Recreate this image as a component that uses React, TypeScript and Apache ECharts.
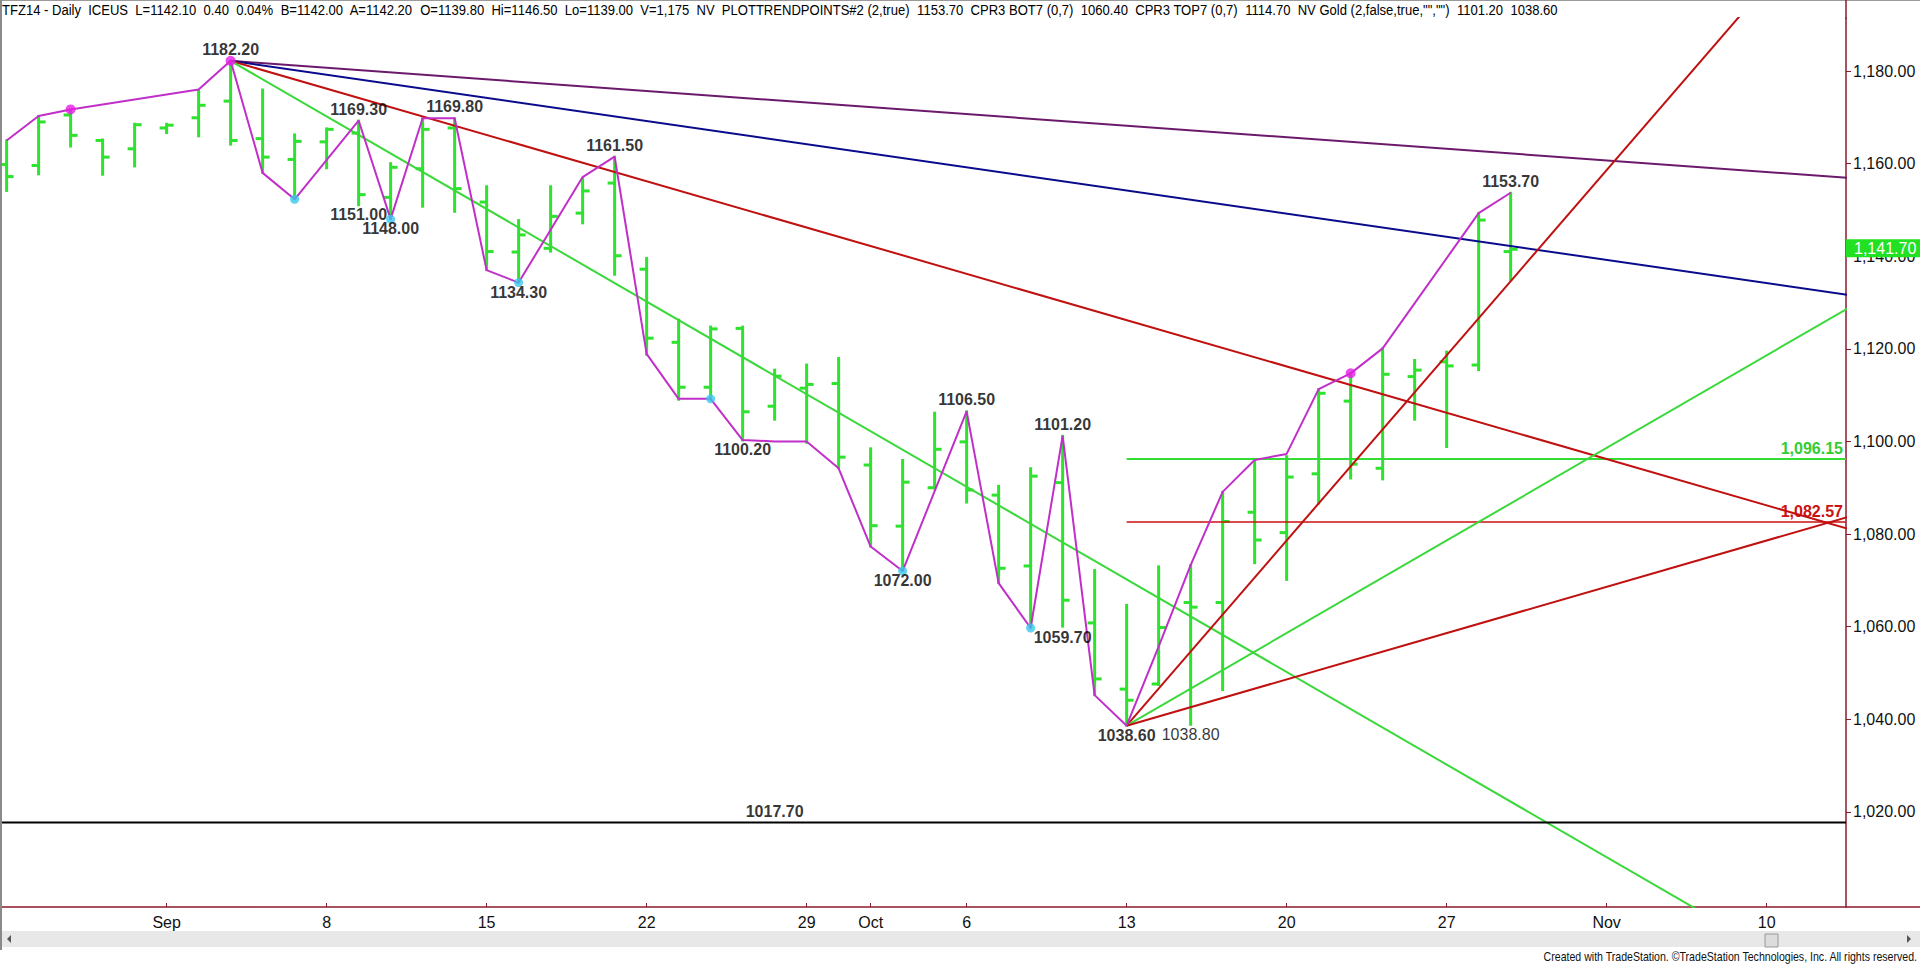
import React, { useEffect, useRef } from "react";
import * as echarts from "echarts";

// ---------- DATA ----------
const barDates = ["08-25","08-26","08-27","08-28","08-29","09-01","09-02","09-03","09-04","09-05","09-08","09-09","09-10","09-11","09-12","09-15","09-16","09-17","09-18","09-19","09-22","09-23","09-24","09-25","09-26","09-29","09-30","10-01","10-02","10-03","10-06","10-07","10-08","10-09","10-10","10-13","10-14","10-15","10-16","10-17","10-20","10-21","10-22","10-23","10-24","10-27","10-28","10-29"];
const opens = [1159.8,1159.6,1170.5,1165.0,1163.2,1167.7,1169.9,1173.5,1165.4,1160.9,1164.7,1166.6,1152.7,1158.9,1167.7,1151.7,1140.9,1141.7,1149.3,1155.8,1137.2,1121.4,1111.7,1124.4,1107.6,1111.5,1112.5,1094.9,1081.7,1090.0,1099.9,1088.4,1073.1,1091.1,1060.8,1046.5,1047.6,1065.2,1065.2,1084.7,1080.3,1093.0,1108.7,1094.2,1114.0,1117.2,1116.5,1141.0];
const highs = [1165.0,1170.3,1171.7,1165.2,1168.6,1168.6,1175.7,1182.2,1176.0,1166.3,1167.6,1169.3,1160.1,1169.8,1169.8,1155.1,1147.8,1155.1,1156.9,1161.5,1139.6,1126.3,1124.8,1124.8,1115.5,1116.6,1118.0,1098.5,1096.0,1106.2,1106.5,1090.4,1094.2,1101.2,1072.2,1064.7,1073.0,1073.3,1089.1,1096.0,1096.8,1111.3,1114.7,1120.1,1117.6,1119.4,1149.3,1153.7];
const lows = [1154.1,1157.7,1163.7,1157.6,1159.4,1166.6,1165.9,1164.1,1158.0,1152.3,1159.0,1151.0,1148.0,1150.7,1149.6,1137.0,1134.3,1141.0,1147.1,1136.0,1118.7,1109.0,1109.0,1100.2,1104.7,1099.7,1094.2,1077.3,1072.0,1089.8,1086.8,1069.4,1059.7,1060.0,1045.2,1038.6,1047.4,1038.8,1046.3,1073.7,1070.1,1086.6,1092.0,1091.8,1104.7,1098.8,1115.4,1134.9];
const closes = [1157.2,1169.0,1166.1,1161.4,1168.4,1168.3,1172.6,1165.0,1161.4,1164.8,1167.4,1153.3,1159.2,1167.4,1154.6,1141.0,1144.6,1148.6,1154.1,1140.1,1122.3,1111.7,1124.3,1106.4,1114.1,1112.3,1096.6,1081.8,1091.2,1098.3,1089.5,1072.6,1092.5,1065.7,1048.7,1044.1,1059.8,1064.2,1082.7,1078.7,1092.3,1110.4,1095.1,1114.5,1115.4,1116.3,1147.8,1141.5];

const zigIdx = [0,1,2,6,7,8,9,11,12,13,14,15,16,18,19,20,21,22,23,24,25,26,27,28,30,31,32,33,34,35,36,37,38,39,40,41,42,43,46,47];
const zigVal = [1165.0,1170.3,1171.7,1176.0,1182.2,1158.0,1152.3,1169.3,1148.0,1169.8,1169.8,1137.0,1134.3,1157.1,1161.5,1118.9,1109.2,1109.2,1100.3,1100.0,1100.0,1094.2,1077.3,1072.0,1106.5,1069.4,1059.7,1101.2,1045.2,1038.6,1055.7,1073.3,1089.1,1096.0,1097.3,1111.3,1114.7,1120.1,1149.3,1153.7];

const topDotIdx = [2,7,42];
const topDotVal = [1171.7,1182.2,1114.7];
const botDotIdx = [9,12,16,22,28,32];
const botDotVal = [1152.3,1148.0,1134.3,1109.2,1072.0,1059.7];

const highLblIdx = [7,11,14,19,30,33,47];
const highLblVal = [1182.2,1169.3,1169.8,1161.5,1106.5,1101.2,1153.7];
const lowLblIdx = [11,12,16,23,28,33,35,37];
const lowLblVal = [1151.0,1148.0,1134.3,1100.2,1072.0,1059.7,1038.6,1038.8];

const fanHighAnchor = [7, 1182.2];
const fanHighSlopes = [-0.5, -1, -2, -4];
const fanLowAnchor = [35, 1038.6];
const fanLowSlopes = [8, 4, 2];

const levelGreen = 1096.15;
const levelRed = 1082.57;
const supportLevel = 1017.7;
const supportLblIdx = 24;
const lastPrice = 1141.7;

const xTickIdx = [5,10,15,20,25,27,30,35,40,45,50,55];
const xTickLabels = ["Sep","8","15","22","29","Oct","6","13","20","27","Nov","10"];
const yTicks = [1020,1040,1060,1080,1100,1120,1140,1160,1180];

// ---------- STYLE ----------
const FONT = "'Liberation Sans', Arial, sans-serif";
const AXIS = "#8b1a2a";
const BAR = "#2ee22e";
const GREEN = "#3ad83a";
const RED = "#c01010";
const xMin = -0.144;
const xMax = 57.48;
const yMin = 999.44;
const yMax = 1191.45;

const headerParts: [string, string][] = [
  ["TFZ14 - Daily  ICEUS  L=1142.10  0.40  0.04%", "g"],
  ["  B=1142.00  A=1142.20  ", "k"],
  ["O=1139.80", "g"],
  ["  Hi=1146.50  Lo=1139.00  V=1,175  NV  PLOTTRENDPOINTS#2 (2,true)  ", "k"],
  ["1153.70", "m"],
  ["  CPR3 BOT7 (0,7)  ", "k"],
  ["1060.40", "c"],
  ["  CPR3 TOP7 (0,7)  ", "k"],
  ["1114.70", "m"],
  ["  NV Gold (2,false,true,\"\",\"\")  ", "k"],
  ["1101.20", "r"],
  ["  ", "k"],
  ["1038.60", "b"],
];
const footer = "Created with TradeStation. \u00A9TradeStation Technologies, Inc. All rights reserved.";

function measure(text: string, font: string) {
  const c = document.createElement("canvas").getContext("2d");
  if (!c) return text.length * 7;
  c.font = font;
  return c.measureText(text).width;
}

export default function App() {
  const ref = useRef<HTMLDivElement>(null);
  useEffect(() => {
    if (!ref.current) return;
    const chart = echarts.init(ref.current, undefined, { renderer: "svg" });

    const ohlc = barDates.map((_, i) => [i, opens[i], highs[i], lows[i], closes[i]]);
    const fanSeries: any[] = [];
    const fanColorsHigh = ["#6b1a6b", "#0a0a8c", RED, GREEN];
    fanHighSlopes.forEach((s, k) => {
      const xe = 62;
      fanSeries.push({
        type: "line", symbol: "none", silent: true, z: 3, clip: true,
        lineStyle: { color: fanColorsHigh[k], width: 2 },
        data: [[fanHighAnchor[0], fanHighAnchor[1]], [xe, fanHighAnchor[1] + s * (xe - fanHighAnchor[0])]],
      });
    });
    const fanColorsLow = [RED, GREEN, RED];
    fanLowSlopes.forEach((s, k) => {
      const xe = 62;
      fanSeries.push({
        type: "line", symbol: "none", silent: true, z: 3, clip: true,
        lineStyle: { color: fanColorsLow[k], width: 2 },
        data: [[fanLowAnchor[0], fanLowAnchor[1]], [xe, fanLowAnchor[1] + s * (xe - fanLowAnchor[0])]],
      });
    });

    const fmt2 = (v: number) => v.toLocaleString("en-US", { minimumFractionDigits: 2, maximumFractionDigits: 2 });

    const labelData: any[] = [];
    highLblIdx.forEach((ix, k) => labelData.push({ value: [ix, highLblVal[k]], name: highLblVal[k].toFixed(2), label: { position: "top", distance: 3 } }));
    lowLblIdx.forEach((ix, k) => labelData.push({
      value: [ix, lowLblVal[k]], name: lowLblVal[k].toFixed(2),
      label: { position: "bottom", distance: 1, fontWeight: k === lowLblIdx.length - 1 ? "normal" : "bold" },
    }));
    labelData.push({ value: [supportLblIdx, supportLevel], name: supportLevel.toFixed(2), label: { position: "top", distance: 2 } });

    const richStyles: any = {
      g: { color: "#22c822" }, k: { color: "#000" }, m: { color: "#cc22cc" },
      c: { color: "#33cccc" }, r: { color: "#cc1111" }, b: { color: "#101080" },
    };
    Object.keys(richStyles).forEach((key) => { richStyles[key].fontSize = 15; richStyles[key].fontFamily = FONT; });
    const headerRich = headerParts.map(([t, s]) => `{${s}|${t}}`).join("");
    const headerPlain = headerParts.map(([t]) => t).join("");
    const headerW = measure(headerPlain, `15px ${FONT}`);
    const headerScale = 1555 / headerW;
    const footW = measure(footer, `12px ${FONT}`);
    const footScale = 375 / footW;

    const option: any = {
      animation: false,
      backgroundColor: "#fff",
      grid: { left: 2, right: 74, top: 18, bottom: 57, containLabel: false },
      xAxis: {
        type: "value", min: xMin, max: xMax,
        axisLine: { show: true, onZero: false, lineStyle: { color: AXIS, width: 1.5 } },
        axisTick: { show: true, customValues: xTickIdx, inside: true, length: 4, lineStyle: { color: AXIS } },
        axisLabel: {
          customValues: xTickIdx,
          formatter: (v: number) => { const k = xTickIdx.indexOf(Math.round(v)); return k >= 0 ? xTickLabels[k] : ""; },
          color: "#111", fontSize: 16, fontFamily: FONT, margin: 7,
        },
        splitLine: { show: false },
      },
      yAxis: {
        type: "value", position: "right", min: yMin, max: yMax,
        axisLine: { show: true, onZero: false, lineStyle: { color: AXIS, width: 1.5 } },
        axisTick: { show: true, customValues: yTicks, length: 5, lineStyle: { color: AXIS } },
        axisLabel: { customValues: yTicks, formatter: (v: number) => fmt2(v), color: "#111", fontSize: 16, fontFamily: FONT, margin: 7 },
        splitLine: { show: false },
      },
      series: [
        {
          type: "custom", z: 2, silent: true, clip: true,
          data: ohlc,
          encode: { x: 0, y: [1, 2, 3, 4] },
          renderItem: (params: any, api: any) => {
            const i = api.value(0);
            const ph = api.coord([i, api.value(2)]);
            const pl = api.coord([i, api.value(3)]);
            const po = api.coord([i, api.value(1)]);
            const pc = api.coord([i, api.value(4)]);
            const style = { stroke: BAR, lineWidth: 3 };
            return {
              type: "group",
              children: [
                { type: "line", shape: { x1: ph[0], y1: ph[1] - 1, x2: pl[0], y2: pl[1] + 1 }, style },
                { type: "line", shape: { x1: po[0] - 7, y1: po[1], x2: po[0], y2: po[1] }, style },
                { type: "line", shape: { x1: pc[0], y1: pc[1], x2: pc[0] + 7, y2: pc[1] }, style },
              ],
            };
          },
        },
        ...fanSeries,
        {
          type: "line", symbol: "none", silent: true, z: 3,
          lineStyle: { color: "#000", width: 2 },
          data: [[xMin, supportLevel], [xMax, supportLevel]],
        },
        {
          type: "line", data: [], silent: true,
          markLine: {
            silent: true, symbol: "none", z: 3,
            lineStyle: { color: "#33dd33", width: 2, type: "solid" },
            data: [[{ coord: [fanLowAnchor[0], levelGreen] }, { coord: [xMax, levelGreen] }]],
            label: { show: true, position: "insideEndTop", formatter: fmt2(levelGreen), color: "#33cc33", fontSize: 16, fontWeight: "bold", fontFamily: FONT, distance: 3 },
          },
        },
        {
          type: "line", data: [], silent: true,
          markLine: {
            silent: true, symbol: "none", z: 3,
            lineStyle: { color: "#cc1111", width: 1.5, type: "solid" },
            data: [[{ coord: [fanLowAnchor[0], levelRed] }, { coord: [xMax, levelRed] }]],
            label: { show: true, position: "insideEndTop", formatter: fmt2(levelRed), color: "#cc1111", fontSize: 16, fontWeight: "bold", fontFamily: FONT, distance: 3 },
          },
        },
        {
          type: "line", symbol: "none", silent: true, z: 4,
          lineStyle: { color: "#c030c8", width: 2 },
          data: zigIdx.map((ix, k) => [ix, zigVal[k]]),
        },
        {
          type: "scatter", silent: true, z: 5, symbolSize: 10,
          itemStyle: { color: "#e61ee6" },
          data: topDotIdx.map((ix, k) => [ix, topDotVal[k]]),
        },
        {
          type: "scatter", silent: true, z: 5, symbolSize: 9,
          itemStyle: { color: "#3cc8ec" },
          data: botDotIdx.map((ix, k) => [ix, botDotVal[k]]),
        },
        {
          type: "scatter", silent: true, z: 6, symbolSize: 1,
          itemStyle: { color: "rgba(0,0,0,0)" },
          label: { show: true, formatter: (p: any) => p.name, color: "#000", fontSize: 16, fontWeight: "bold", fontFamily: FONT },
          data: labelData,
        },
        {
          type: "line", data: [], silent: true,
          markLine: {
            silent: true, symbol: "none", z: 10,
            lineStyle: { color: "rgba(0,0,0,0)", width: 0 },
            data: [{ yAxis: lastPrice }],
            label: {
              show: true, position: "end", distance: 0, formatter: fmt2(lastPrice),
              color: "#ffffff", backgroundColor: "#22e022", fontSize: 16, fontFamily: FONT,
              padding: [1, 8, 0, 8], lineHeight: 17, opacity: 1,
            },
          },
        },
      ],
      graphic: [
        { type: "rect", silent: true, shape: { x: 0, y: 0, width: 1920, height: 1 }, style: { fill: "#9a9a9a" }, z: 100 },
        { type: "rect", silent: true, shape: { x: 0, y: 0, width: 2, height: 950 }, style: { fill: "#8a8a8a" }, z: 100 },
        { type: "line", silent: true, shape: { x1: 1846, y1: 0, x2: 1846, y2: 19 }, style: { stroke: AXIS, lineWidth: 1.5 }, z: 100 },
        { type: "line", silent: true, shape: { x1: 1846, y1: 907, x2: 1920, y2: 907 }, style: { stroke: AXIS, lineWidth: 1.5 }, z: 100 },
        { type: "rect", silent: true, shape: { x: 2, y: 931, width: 1918, height: 16 }, style: { fill: "#e8e8e8" }, z: 100 },
        { type: "polygon", silent: true, shape: { points: [[11, 935], [11, 943], [7, 939]] }, style: { fill: "#555" }, z: 101 },
        { type: "polygon", silent: true, shape: { points: [[1907, 935], [1907, 943], [1911, 939]] }, style: { fill: "#555" }, z: 101 },
        { type: "rect", silent: true, shape: { x: 1765, y: 934, width: 13, height: 13 }, style: { fill: "#dcdcdc", stroke: "#9a9a9a", lineWidth: 1 }, z: 101 },
        {
          type: "text", silent: true, x: 2, y: 10, scaleX: headerScale, z: 101,
          style: { text: headerRich, rich: richStyles, fontSize: 15, fontFamily: FONT, verticalAlign: "middle", align: "left" },
        },
        {
          type: "text", silent: true, x: 1917, y: 957, scaleX: footScale, z: 101,
          style: { text: footer, fontSize: 12, fontFamily: FONT, fill: "#111", verticalAlign: "middle", align: "right" },
        },
      ],
    };
    chart.setOption(option);
    return () => chart.dispose();
  }, []);
  return <div ref={ref} style={{ position: "fixed", left: 0, top: 0, width: 1920, height: 964, background: "#fff" }} />;
}
